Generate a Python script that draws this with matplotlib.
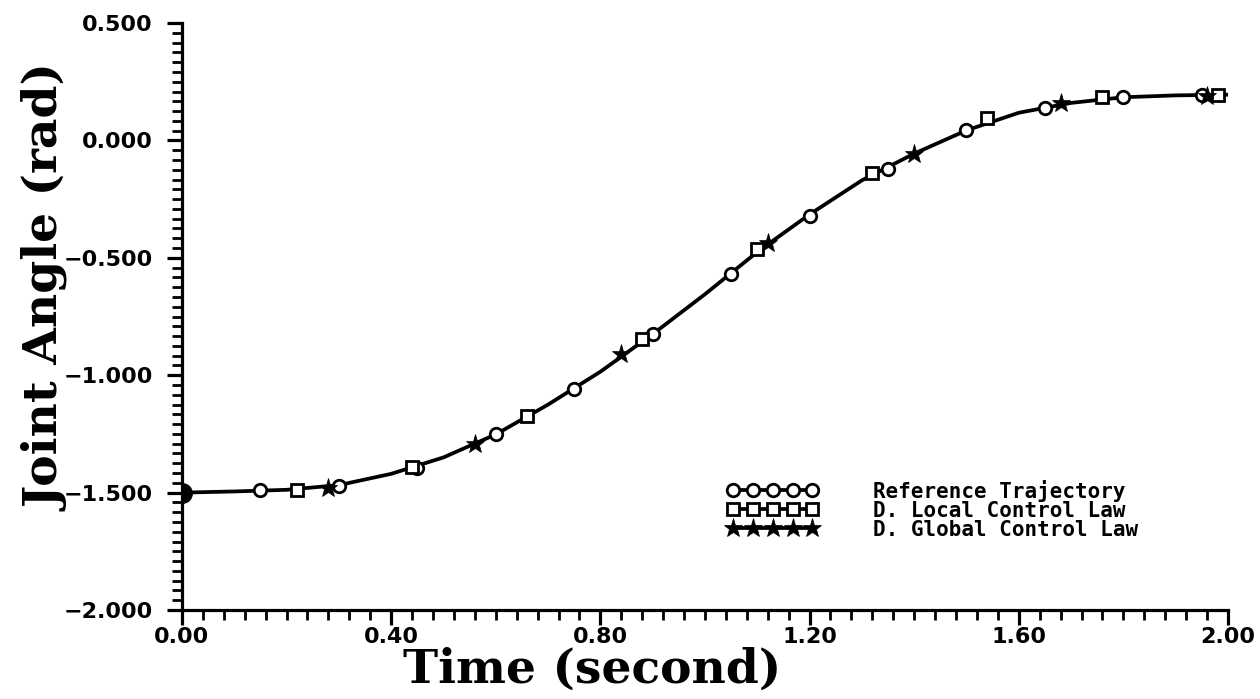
import matplotlib
matplotlib.use('Agg')
import matplotlib.pyplot as plt
from matplotlib.ticker import MultipleLocator, FuncFormatter
from matplotlib.lines import Line2D

# joint angle curve
curve_t = [0.0, 0.1, 0.2, 0.3, 0.4, 0.5, 0.6, 0.7, 0.8, 0.9, 1.0,
           1.1, 1.2, 1.3, 1.4, 1.5, 1.6, 1.7, 1.8, 1.9, 2.0]
curve_q = [-1.500, -1.495, -1.488, -1.468, -1.420, -1.350, -1.252, -1.125, -0.985, -0.825, -0.655,
           -0.475, -0.315, -0.170, -0.056, 0.043, 0.118, 0.160, 0.184, 0.192, 0.195]

# reference trajectory (circles)
ref_t = [0.00, 0.15, 0.30, 0.45, 0.60, 0.75, 0.90, 1.05, 1.20, 1.35, 1.50, 1.65, 1.80, 1.95]
ref_q = [-1.500, -1.490, -1.470, -1.393, -1.252, -1.060, -0.825, -0.568, -0.320, -0.120, 0.043, 0.137, 0.184, 0.192]

# decentralized local control law (squares)
loc_t = [0.00, 0.22, 0.44, 0.66, 0.88, 1.10, 1.32, 1.54, 1.76, 1.98]
loc_q = [-1.500, -1.490, -1.389, -1.175, -0.846, -0.462, -0.137, 0.094, 0.184, 0.195]

# decentralized global control law (stars)
glb_t = [0.00, 0.28, 0.56, 0.84, 1.12, 1.40, 1.68, 1.96]
glb_q = [-1.500, -1.480, -1.295, -0.910, -0.436, -0.056, 0.158, 0.190]

labels = ['Reference Trajectory', 'D. Local Control Law', 'D. Global Control Law']

fig = plt.figure(figsize=(12.6, 6.99), dpi=100)
ax = fig.add_axes([0.1444, 0.1273, 0.8302, 0.8397])

lw = 2.7
circ = dict(marker='o', ms=9, mew=2.0, mfc='white', mec='black')
sq = dict(marker='s', ms=8, mew=2.0, mfc='white', mec='black')
star = dict(marker='*', ms=14, mew=0.5, mfc='black', mec='black')

ax.plot(curve_t, curve_q, '-', color='black', lw=lw, zorder=2)
ax.plot(ref_t, ref_q, ls='none', zorder=3, **circ)
ax.plot(loc_t, loc_q, ls='none', zorder=3, **sq)
ax.plot(glb_t, glb_q, ls='none', zorder=4, **star)
ax.plot([0], [-1.5], 'o', color='black', ms=14, zorder=5)

ax.set_xlim(0, 2.0)
ax.set_ylim(-2.0, 0.5)
ax.spines['top'].set_visible(False)
ax.spines['right'].set_visible(False)
ax.spines['left'].set_linewidth(2.3)
ax.spines['bottom'].set_linewidth(2.3)

ax.xaxis.set_major_locator(MultipleLocator(0.4))
ax.xaxis.set_minor_locator(MultipleLocator(0.04))
ax.yaxis.set_major_locator(MultipleLocator(0.5))
ax.yaxis.set_minor_locator(MultipleLocator(0.5 / 12))
ax.xaxis.set_major_formatter(FuncFormatter(lambda v, p: '%.2f' % v))
ax.yaxis.set_major_formatter(FuncFormatter(lambda v, p: ('%.3f' % v).replace('-', '\u2212')))

ax.tick_params(which='major', direction='out', length=11, width=2.3)
ax.tick_params(which='minor', direction='out', length=7, width=2.0)
ax.tick_params(axis='x', which='major', pad=1)
ax.tick_params(axis='y', which='major', pad=10)
for lab in ax.get_xticklabels() + ax.get_yticklabels():
    lab.set_fontfamily('DejaVu Sans')
    lab.set_fontweight('bold')
    lab.set_fontsize(16)

ax.set_xlabel('Time (second)', fontsize=34, fontweight='bold', family='DejaVu Serif')
ax.set_ylabel('Joint Angle (rad)', fontsize=34, fontweight='bold', family='DejaVu Serif')
ax.xaxis.set_label_coords(0.392, -0.102)
ax.yaxis.set_label_coords(-0.129, 0.549)
ax.xaxis.label.set_va('center')
ax.yaxis.label.set_va('center')

handles = [
    Line2D([], [], color='black', lw=lw, **circ),
    Line2D([], [], color='black', lw=lw, **sq),
    Line2D([], [], color='black', lw=lw, **star),
]
ax.legend(handles, labels, loc='upper left', bbox_to_anchor=(0.521, 0.222),
          frameon=False, numpoints=5, handlelength=4.4, handletextpad=2.6,
          labelspacing=-0.05, borderpad=0, borderaxespad=0,
          prop={'family': 'DejaVu Sans Mono', 'weight': 'bold', 'size': 15})

fig.savefig('out.png', dpi=100)
